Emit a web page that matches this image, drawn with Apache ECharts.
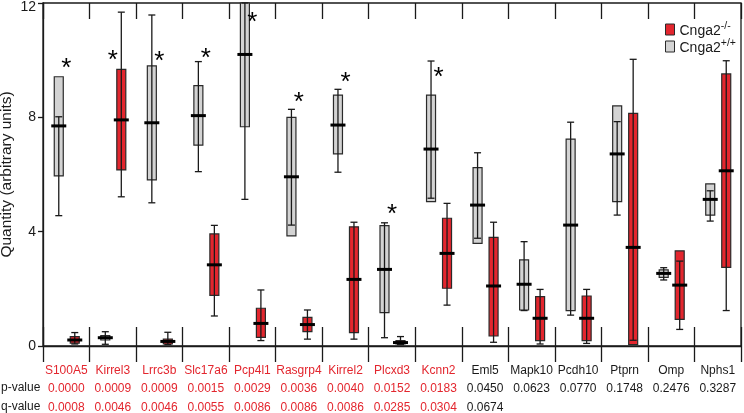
<!DOCTYPE html>
<html>
<head>
<meta charset="utf-8">
<script src="https://cdn.jsdelivr.net/npm/echarts@6/dist/echarts.min.js"></script>
<style>
  html, body { margin: 0; padding: 0; background: #fff; }
  #chart { width: 744px; height: 413px; }
</style>
</head>
<body>
<div id="chart"></div>
<script>
// genes along the x axis
const genes = ['S100A5', 'Kirrel3', 'Lrrc3b', 'Slc17a6', 'Pcp4l1', 'Rasgrp4', 'Kirrel2', 'Plcxd3',
  'Kcnn2', 'Eml5', 'Mapk10', 'Pcdh10', 'Ptprn', 'Omp', 'Nphs1'];
const pValues = ['0.0000', '0.0009', '0.0009', '0.0015', '0.0029', '0.0036', '0.0040', '0.0152',
  '0.0183', '0.0450', '0.0623', '0.0770', '0.1748', '0.2476', '0.3287'];
const qValues = ['0.0008', '0.0046', '0.0046', '0.0055', '0.0086', '0.0086', '0.0086', '0.0285',
  '0.0304', '0.0674', '', '', '', '', ''];
const significantCount = 9; // first 9 genes are printed in red

// [whisker low, q1, median, q3, whisker high]
const wildType = [
  [4.56, 5.95, 7.70, 9.42, 8.02],
  [0.06, 0.21, 0.29, 0.36, 0.50],
  [5.01, 5.81, 7.81, 9.80, 11.58],
  [6.10, 7.03, 8.06, 9.11, 9.95],
  [5.13, 7.67, 10.20, 12.00, 12.00],
  [4.23, 3.85, 5.92, 8.00, 8.28],
  [6.08, 6.72, 7.73, 8.78, 8.98],
  [0.29, 1.17, 2.68, 4.21, 4.31],
  [5.17, 5.05, 6.89, 8.78, 9.97],
  [3.77, 3.59, 4.93, 6.24, 6.76],
  [1.24, 1.26, 2.16, 3.01, 3.65],
  [1.08, 1.24, 4.23, 7.24, 7.83],
  [4.58, 5.05, 6.72, 8.40, 7.85],
  [2.31, 2.40, 2.54, 2.66, 2.74],
  [4.37, 4.58, 5.13, 5.67, 5.43]
];
const knockOut = [
  [0.07, 0.10, 0.21, 0.33, 0.47],
  [5.22, 6.16, 7.91, 9.68, 11.68],
  [0.05, 0.07, 0.16, 0.24, 0.48],
  [1.05, 1.77, 2.84, 3.92, 4.22],
  [0.19, 0.30, 0.79, 1.32, 1.96],
  [0.24, 0.50, 0.75, 1.00, 1.26],
  [0.24, 0.47, 2.33, 4.17, 4.33],
  [0.05, 0.07, 0.12, 0.19, 0.33],
  [1.43, 2.02, 3.24, 4.47, 4.99],
  [0.13, 0.35, 2.10, 3.80, 4.33],
  [0.07, 0.19, 0.97, 1.73, 1.98],
  [0.09, 0.19, 0.97, 1.75, 1.98],
  [0.20, 0.05, 3.45, 8.14, 10.03],
  [0.58, 0.93, 2.13, 3.33, 2.97],
  [1.24, 2.75, 6.13, 9.52, 9.98]
];

// asterisks: gene index and height
const starGenes = [0, 1, 2, 3, 4, 5, 6, 7, 8];
const starLevels = [9.9, 10.2, 10.15, 10.25, 11.5, 8.7, 9.4, 4.8, 9.6];

const RED = '#e3262e';
const GREY = '#d3d3d3';
const INK = '#1a1a1a';
const FONT = '"Liberation Sans", Arial, sans-serif';

// draws one box with whisker line through it and a wide median bar
const makeBoxRenderer = (offset, fill) => (params, api) => {
  const idx = api.value(0);
  const x = api.coord([idx, 0])[0] + offset;
  const y = (d) => api.coord([idx, api.value(d)])[1];
  const lo = y(1), q1 = y(2), med = y(3), q3 = y(4), hi = y(5);
  const bw = 9, cap = 7, mw = 15;
  return {
    type: 'group',
    children: [
      { type: 'rect', shape: { x: x - bw / 2, y: q3, width: bw, height: q1 - q3 },
        style: { fill: fill, stroke: '#2a2a2a', lineWidth: 1.2 } },
      { type: 'line', shape: { x1: x, y1: lo, x2: x, y2: hi },
        style: { stroke: INK, lineWidth: 1.3 } },
      { type: 'line', shape: { x1: x - cap / 2, y1: lo, x2: x + cap / 2, y2: lo },
        style: { stroke: INK, lineWidth: 1.3 } },
      { type: 'line', shape: { x1: x - cap / 2, y1: hi, x2: x + cap / 2, y2: hi },
        style: { stroke: INK, lineWidth: 1.3 } },
      { type: 'line', shape: { x1: x - mw / 2, y1: med, x2: x + mw / 2, y2: med },
        style: { stroke: '#000', lineWidth: 3 } }
    ]
  };
};

const chart = echarts.init(document.getElementById('chart'));

const labelColor = (i) => (i < significantCount ? 'r' : 'k');

const option = {
  animation: false,
  backgroundColor: '#fff',
  grid: {
    left: 43, right: 3, top: 3, bottom: 67,
    outerBoundsMode: 'none',
    show: true, borderColor: INK, borderWidth: 1.3, backgroundColor: 'transparent'
  },
  legend: {
    orient: 'vertical',
    left: 660, top: 16,
    itemWidth: 9, itemHeight: 11, itemGap: 0,
    textStyle: {
      fontFamily: FONT, color: INK,
      rich: {
        b: { fontSize: 14, fontFamily: FONT, color: INK, padding: [3, 0, 0, 0] },
        s: { fontSize: 10.5, fontFamily: FONT, color: INK, verticalAlign: 'top' }
      }
    },
    formatter: (name) => (name === 'Cnga2-/-' ? '{b|Cnga2}{s|-/-}' : '{b|Cnga2}{s|+/+}'),
    data: [
      { name: 'Cnga2-/-', icon: 'rect', itemStyle: { color: RED, borderColor: '#2a2a2a', borderWidth: 1 } },
      { name: 'Cnga2+/+', icon: 'rect', itemStyle: { color: GREY, borderColor: '#2a2a2a', borderWidth: 1 } }
    ]
  },
  xAxis: [
    {
      type: 'category', data: genes, position: 'bottom',
      axisLine: { show: true, lineStyle: { color: INK, width: 1.3 } },
      axisTick: { show: true, interval: 0, length: 16, lineStyle: { color: INK, width: 1.3 } },
      axisLabel: {
        interval: 0, margin: 15, fontFamily: FONT,
        formatter: (val, i) => {
          const c = labelColor(i);
          const q = qValues[i] ? '{' + c + '|' + qValues[i] + '}' : '{k| }';
          return '{' + c + '|' + val + '}\n{' + c + '|' + pValues[i] + '}\n' + q;
        },
        rich: {
          r: { color: RED, fontSize: 12, fontFamily: FONT, lineHeight: 18.5 },
          k: { color: INK, fontSize: 12, fontFamily: FONT, lineHeight: 18.5 }
        }
      }
    },
    {
      type: 'category', data: genes, position: 'bottom',
      axisLine: { show: false },
      axisTick: { show: true, inside: true, interval: 0, length: 19, lineStyle: { color: INK, width: 1.3 } },
      axisLabel: { show: false }
    },
    {
      type: 'category', data: genes, position: 'top',
      axisLine: { show: false },
      axisTick: { show: true, inside: true, interval: 0, length: 16, lineStyle: { color: INK, width: 1.3 } },
      axisLabel: { show: false }
    }
  ],
  yAxis: {
    type: 'value', min: 0, max: 12, interval: 4,
    name: 'Quantity (arbitrary units)',
    nameLocation: 'middle', nameGap: 28, nameMoveOverlap: false,
    nameTextStyle: { fontFamily: FONT, fontSize: 15.5, color: INK },
    axisLine: { show: true, lineStyle: { color: INK, width: 1.3 } },
    axisTick: { show: true, length: 5, lineStyle: { color: INK, width: 1.3 } },
    axisLabel: {
      margin: 7, fontFamily: FONT, fontSize: 14, color: INK,
      formatter: (v) => (v === 12 ? '{t|12}' : String(v)),
      rich: { t: { fontFamily: FONT, fontSize: 14, color: INK, padding: [8, 0, 0, 0] } }
    },
    splitLine: { show: false }
  },
  graphic: [
    { type: 'text', left: 1, top: 382, style: { text: 'p-value', font: '12px ' + FONT, fill: INK } },
    { type: 'text', left: 1, top: 401, style: { text: 'q-value', font: '12px ' + FONT, fill: INK } }
  ],
  series: [
    {
      name: 'Cnga2+/+', type: 'custom', xAxisIndex: 0,
      itemStyle: { color: GREY },
      encode: { x: 0, y: [1, 2, 3, 4, 5] },
      data: wildType.map((b, i) => [i].concat(b)),
      renderItem: makeBoxRenderer(-7.5, GREY),
      z: 2
    },
    {
      name: 'Cnga2-/-', type: 'custom', xAxisIndex: 0,
      itemStyle: { color: RED },
      encode: { x: 0, y: [1, 2, 3, 4, 5] },
      data: knockOut.map((b, i) => [i].concat(b)),
      renderItem: makeBoxRenderer(8.5, RED),
      z: 2
    },
    {
      name: 'stars', type: 'custom', xAxisIndex: 0,
      encode: { x: 0, y: 1 },
      data: starGenes.map((g, i) => [g, starLevels[i]]),
      renderItem: (params, api) => {
        const p = api.coord([api.value(0), api.value(1)]);
        return {
          type: 'text',
          style: { text: '*', x: p[0], y: p[1] + 6, align: 'center', verticalAlign: 'middle',
            font: '26px ' + FONT, fill: '#000' }
        };
      },
      z: 3
    }
  ]
};

chart.setOption(option);
</script>
</body>
</html>
